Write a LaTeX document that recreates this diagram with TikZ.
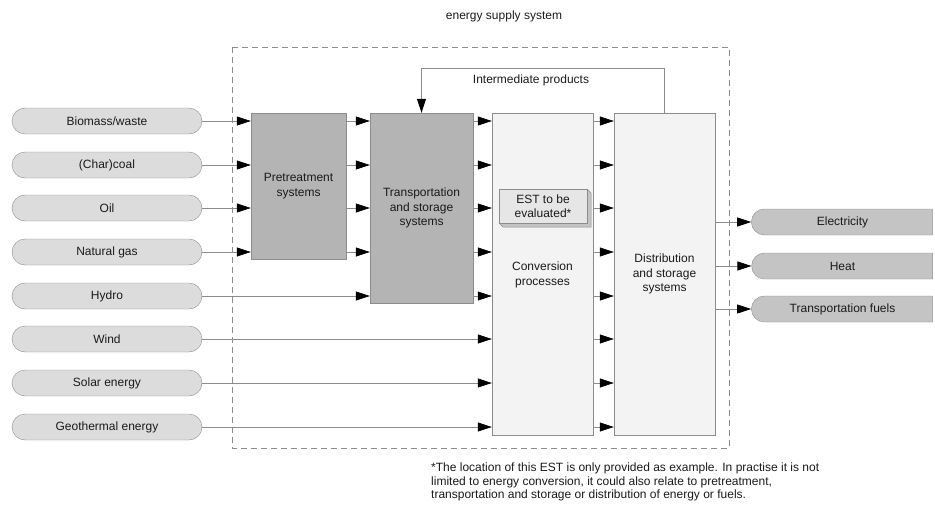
\documentclass[tikz,border=0pt]{standalone}
\usepackage{fontspec}
\setmainfont{Liberation Sans}
\usetikzlibrary{arrows.meta,shapes.misc,calc}

\definecolor{edge}{HTML}{8C8C8C}
\definecolor{srcfill}{HTML}{DCDCDC}
\definecolor{prefill}{HTML}{B4B4B4}
\definecolor{outfill}{HTML}{C4C4C4}
\definecolor{lightfill}{HTML}{F3F3F3}
\definecolor{estfill}{HTML}{E6E6E6}
\definecolor{estside}{HTML}{C4C4C4}
\definecolor{ink}{HTML}{1A1A1A}

\tikzset{
  txt/.style={font=\fontsize{12}{14.5}\selectfont, text=ink, align=center, inner sep=0pt},
  inpill/.style={txt, draw=edge, fill=srcfill, rectangle, rounded corners=13pt,
    minimum width=190pt, minimum height=26pt},
  outpill/.style={txt, draw=edge, fill=outfill, rounded rectangle, rounded rectangle right arc=none,
    minimum width=181pt, minimum height=26pt},
  darkbox/.style={txt, draw=edge, fill=prefill, rectangle},
  lightbox/.style={txt, draw=edge, fill=lightfill, rectangle},
  flow/.style={draw=edge, line width=0.7pt, -{Triangle[length=14pt,width=9pt,color=black]}},
}

\begin{document}
\begin{tikzpicture}[x=1pt,y=-1pt]
\path[use as bounding box] (0,0) rectangle (935,506);

% title and system boundary
\node[txt] (title) at (504,16) {energy supply system};
\draw[edge, line width=0.7pt, dash pattern=on 6pt off 4pt] (232,47) rectangle (729,448);

% primary energy sources
\node[inpill] (bio)  at (107,121) {Biomass/waste};
\node[inpill] (coal) at (107,165) {(Char)coal};
\node[inpill] (oil)  at (107,208) {Oil};
\node[inpill] (gas)  at (107,252) {Natural gas};
\node[inpill] (hyd)  at (107,296) {Hydro};
\node[inpill] (wind) at (107,339) {Wind};
\node[inpill] (sol)  at (107,383) {Solar energy};
\node[inpill] (geo)  at (107,427) {Geothermal energy};

% processing chain
\node[darkbox, minimum width=95pt, minimum height=146pt] (pre) at (298.5,186) {Pretreatment\\systems};
\node[darkbox, minimum width=103pt, minimum height=190pt] (tr) at (421.5,208) {Transportation\\and storage\\systems};
\node[lightbox, minimum width=101pt, minimum height=322pt] (conv) at (542.5,274) {};
\node[txt] (convlbl) at (542.5,275) {Conversion\\processes};
\node[lightbox, minimum width=101pt, minimum height=322pt] (dist) at (664.5,274) {Distribution\\and storage\\systems};

% technology under evaluation (box with bevelled depth)
\fill[estside, draw=edge, line width=0.5pt] (587,189) -- (591,193) -- (591,227) -- (503,227) -- (499,223) -- (587,223) -- cycle;
\node[txt, draw=edge, fill=estfill, minimum width=88pt, minimum height=34pt] (est) at (543,206) {EST to be\\evaluated*};

% final energy carriers
\node[outpill] (elec) at (842.5,222) {Electricity};
\node[outpill] (heat) at (842.5,266) {Heat};
\node[outpill] (fuel) at (842.5,309) {Transportation fuels};

% sources into pretreatment
\foreach \s in {bio,coal,oil,gas}
  \draw[flow] (\s.east) -- (pre.west |- \s.east);
% pretreatment into transport
\foreach \s in {bio,coal,oil,gas}
  \draw[flow] (pre.east |- \s.east) -- (tr.west |- \s.east);
\draw[flow] (hyd.east) -- (tr.west |- hyd.east);
% transport into conversion
\foreach \s in {bio,coal,oil,gas,hyd}
  \draw[flow] (tr.east |- \s.east) -- (conv.west |- \s.east);
\foreach \s in {wind,sol,geo}
  \draw[flow] (\s.east) -- (conv.west |- \s.east);
% conversion into distribution
\foreach \s in {bio,coal,oil,gas,hyd,wind,sol,geo}
  \draw[flow] (conv.east |- \s.east) -- (dist.west |- \s.east);
% distribution to end use
\foreach \s in {elec,heat,fuel}
  \draw[flow] (dist.east |- \s.west) -- (\s.west);

% recycling of intermediate products
\draw[flow] (dist.north) -- ++(0,-44) -| (tr.north);
\node[txt] (interm) at (531,80) {Intermediate products};

% footnote
\node[txt, align=left, anchor=north west, font=\fontsize{12}{13.5}\selectfont] (note) at (431,463)
  {*The location of this EST is only provided as example. In practise it is not\\
   limited to energy conversion, it could also relate to pretreatment,\\
   transportation and storage or distribution of energy or fuels.};
\end{tikzpicture}
\end{document}
